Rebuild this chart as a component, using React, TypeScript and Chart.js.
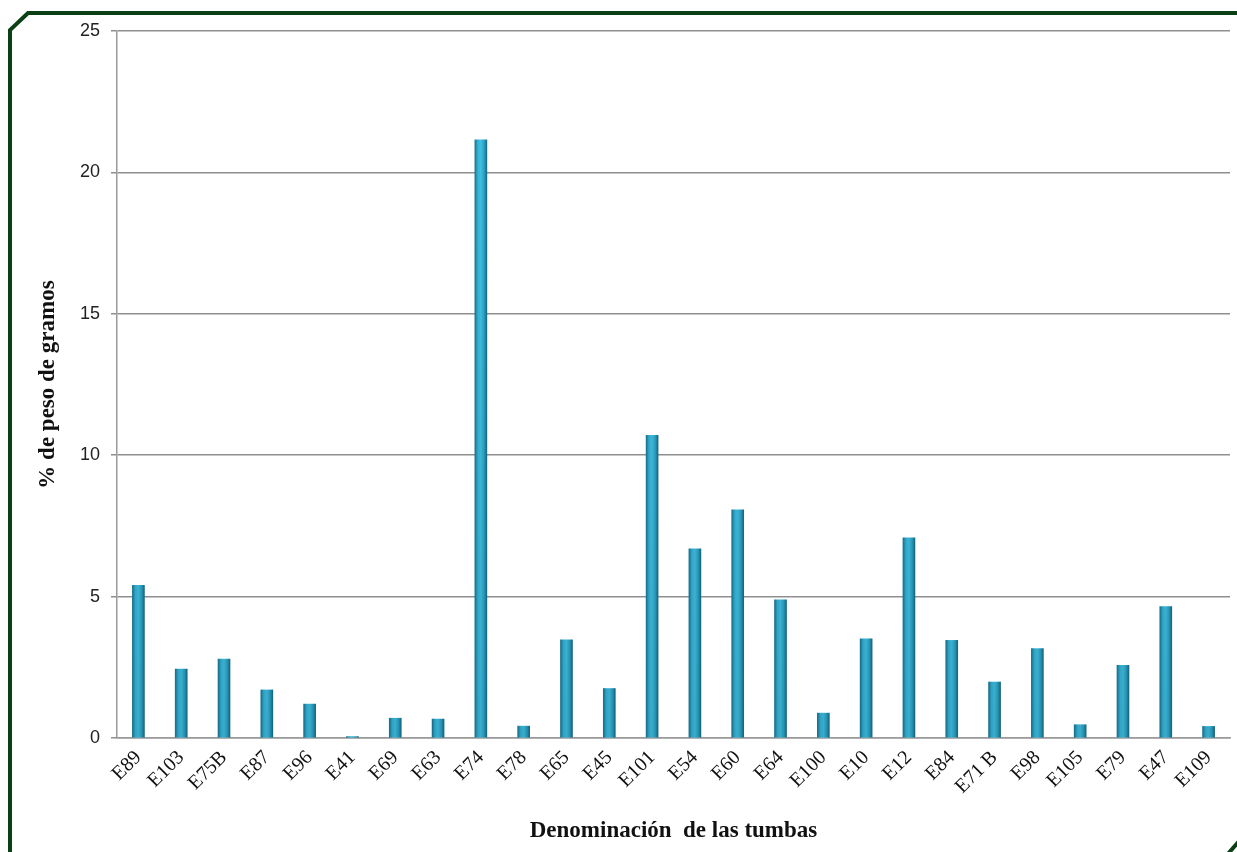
import React, { useEffect, useRef } from "react";
import { Chart, registerables } from "chart.js";

Chart.register(...registerables);

const categories = [
  "E89", "E103", "E75B", "E87", "E96", "E41", "E69", "E63", "E74", "E78",
  "E65", "E45", "E101", "E54", "E60", "E64", "E100", "E10", "E12", "E84",
  "E71 B", "E98", "E105", "E79", "E47", "E109",
];
const values = [
  5.4, 2.44, 2.79, 1.7, 1.2, 0.05, 0.7, 0.67, 21.15, 0.42,
  3.47, 1.75, 10.7, 6.69, 8.07, 4.89, 0.88, 3.51, 7.08, 3.45,
  1.98, 3.16, 0.47, 2.57, 4.65, 0.41,
];
const yMin = 0;
const yMax = 25;
const yStep = 5;
const xTitle = "Denominación  de las tumbas";
const yTitle = "% de peso de gramos";

const framePlugin = {
  id: "frame",
  beforeDraw(chart: any) {
    const { ctx, width, height } = chart;
    ctx.save();
    ctx.fillStyle = "#ffffff";
    ctx.fillRect(0, 0, width, height);
    ctx.strokeStyle = "#0b3f14";
    ctx.lineWidth = 4;
    ctx.lineJoin = "miter";
    ctx.beginPath();
    ctx.moveTo(10, height + 5);
    ctx.lineTo(10, 30);
    ctx.lineTo(28, 13);
    ctx.lineTo(width + 5, 13);
    ctx.stroke();
    ctx.beginPath();
    ctx.moveTo(1227, height + 3);
    ctx.lineTo(width + 3, 840);
    ctx.stroke();
    ctx.restore();
  },
};

const shadePlugin = {
  id: "shade",
  afterDatasetsDraw(chart: any) {
    const { ctx, chartArea } = chart;
    const meta = chart.getDatasetMeta(0);
    ctx.save();
    const g = ctx.createLinearGradient(0, chartArea.top, 0, chartArea.bottom);
    g.addColorStop(0, "rgba(10,50,70,0)");
    g.addColorStop(1, "rgba(10,50,70,0.15)");
    ctx.fillStyle = g;
    meta.data.forEach((el: any) => {
      const w = el.width;
      if (!isFinite(el.x) || !isFinite(el.y) || !isFinite(el.base)) return;
      ctx.fillRect(el.x - w / 2, el.y, w, el.base - el.y);
    });
    ctx.restore();
  },
};

export default function App() {
  const ref = useRef<HTMLCanvasElement | null>(null);
  useEffect(() => {
    if (!ref.current) return;
    const chart = new Chart(ref.current, {
      type: "bar",
      data: {
        labels: categories,
        datasets: [
          {
            data: values,
            barThickness: 12,
            backgroundColor: (c: any) => {
              const ch = c.chart;
              const xs = ch.scales && ch.scales.x;
              if (!xs || c.dataIndex === undefined) return "#2eaad0";
              const x = xs.getPixelForValue(c.dataIndex);
              if (!isFinite(x)) return "#2eaad0";
              const g = ch.ctx.createLinearGradient(x - 6, 0, x + 6, 0);
              g.addColorStop(0, "#1a7490");
              g.addColorStop(0.25, "#35b6da");
              g.addColorStop(0.5, "#42c2e4");
              g.addColorStop(0.78, "#2aa2c4");
              g.addColorStop(1, "#176a82");
              return g;
            },
            borderWidth: 0,
          },
        ],
      },
      options: {
        animation: false,
        responsive: true,
        maintainAspectRatio: false,
        layout: { padding: { left: 0, top: 31, right: 7, bottom: 0 } },
        plugins: {
          legend: { display: false },
          tooltip: { enabled: false },
        },
        scales: {
          x: {
            grid: { display: false, drawTicks: false },
            border: { display: true, color: "#9a9a9a", width: 1.5 },
            ticks: {
              color: "#111",
              font: { family: "'Liberation Serif', 'Times New Roman', serif", size: 20 },
              maxRotation: 45,
              minRotation: 45,
              padding: 8,
              autoSkip: false,
            },
            title: {
              display: true,
              text: xTitle,
              color: "#111",
              font: { family: "'Liberation Serif', 'Times New Roman', serif", size: 23, weight: "bold" },
              padding: { top: 0, bottom: 7 },
            },
            afterFit: (s: any) => {
              s.height = 852 - 738;
            },
          },
          y: {
            min: yMin,
            max: yMax,
            ticks: {
              stepSize: yStep,
              color: "#222",
              font: { family: "'Liberation Sans', Arial, sans-serif", size: 18 },
              padding: 11,
            },
            grid: { color: "#8f8f8f", lineWidth: 1.5, tickLength: 6 },
            border: { display: true, color: "#9a9a9a", width: 1.5 },
            title: {
              display: true,
              text: yTitle,
              color: "#111",
              font: { family: "'Liberation Serif', 'Times New Roman', serif", size: 23, weight: "bold" },
              padding: { top: 34, bottom: 0 },
            },
            afterFit: (s: any) => {
              s.width = 117;
            },
          },
        },
      },
      plugins: [framePlugin, shadePlugin],
    });
    return () => chart.destroy();
  }, []);
  return (
    <div style={{ position: "absolute", left: 0, top: 0, width: 1237, height: 852, background: "#fff" }}>
      <canvas ref={ref} />
    </div>
  );
}
